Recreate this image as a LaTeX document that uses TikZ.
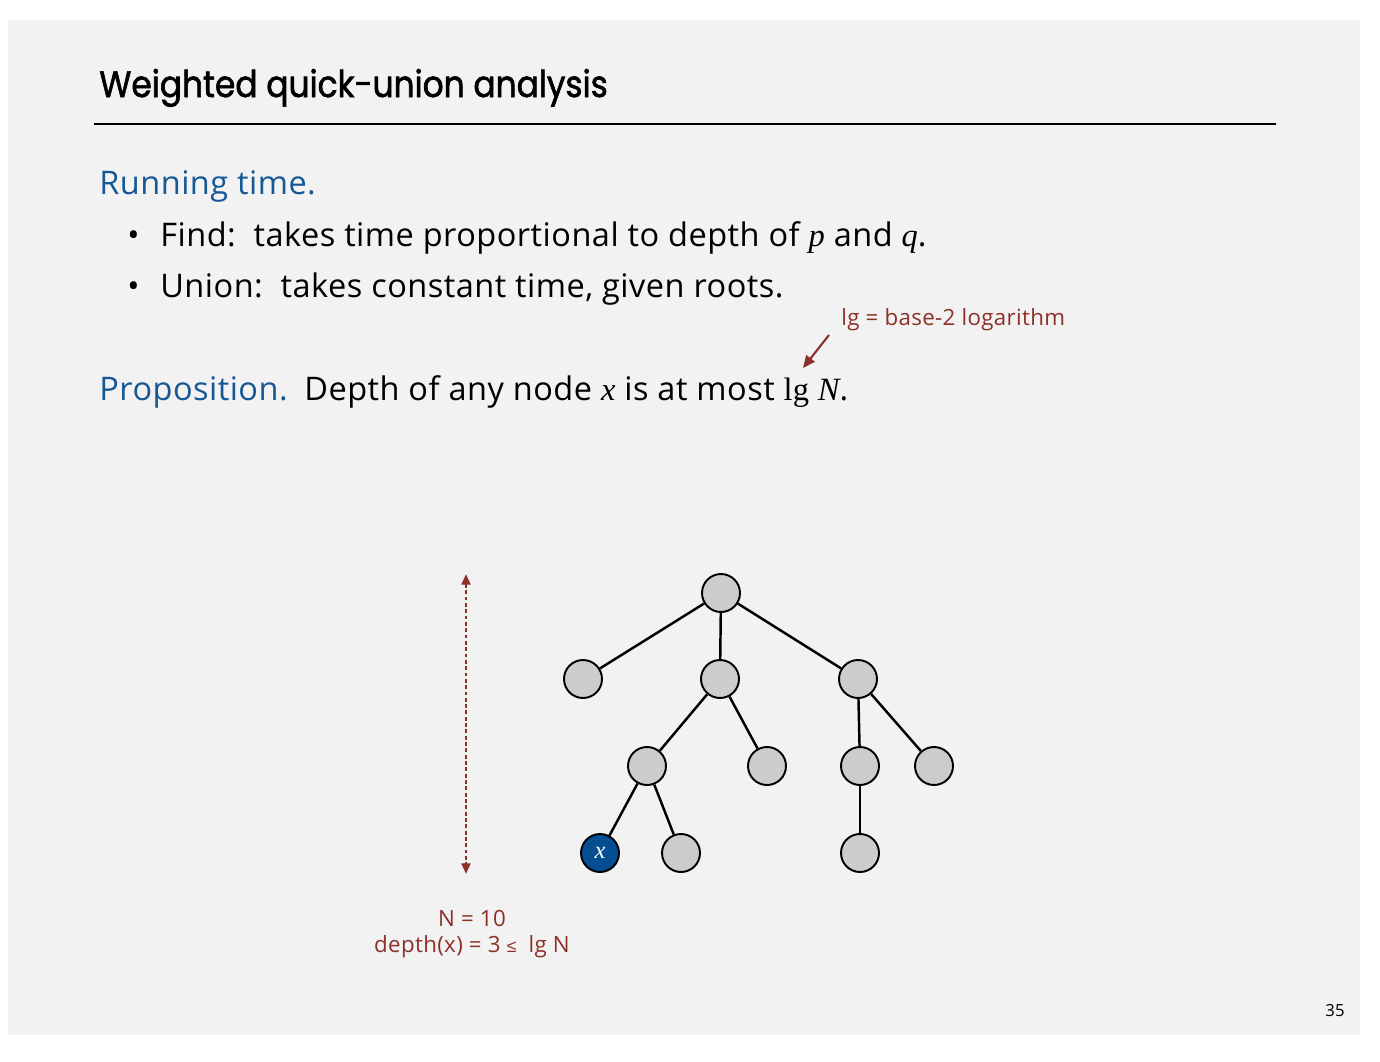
\documentclass[tikz,border=0pt]{standalone}
\usepackage{fontspec}
\setmainfont{Open Sans}[LetterSpace=1.5]
\newfontfamily\titlefont{Poppins}[FakeStretch=0.89, FakeBold=1.6]
\newfontfamily\serifmath{Liberation Serif}
\newfontfamily\symfont{Liberation Sans}
\usetikzlibrary{arrows.meta}
\definecolor{slidegray}{RGB}{242,242,242}
\definecolor{headblue}{RGB}{22,88,150}
\definecolor{notered}{RGB}{140,48,40}
\definecolor{nodegray}{RGB}{204,204,204}
\definecolor{xblue}{RGB}{4,78,145}
\newcommand{\mv}[1]{{\serifmath\itshape #1}}
\tikzset{
	treenode/.style={circle, draw=black, line width=1.1pt, fill=nodegray, minimum size=0.76cm, inner sep=0pt},
	treeedge/.style={line width=1.4pt},
	bodytext/.style={anchor=base west, inner sep=0pt, font=\fontsize{18.5}{22}\selectfont},
	notetext/.style={inner sep=0pt, text=notered, font=\fontsize{12.7}{15}\selectfont},
}
\begin{document}
\begin{tikzpicture}[x=0.02cm, y=-0.02cm]
				\useasboundingbox (0,0) rectangle (1380,1062);
				\fill[white] (0,0) rectangle (1380,1062);
				\fill[slidegray] (8,20) rectangle (1360,1035);
				\node [anchor=base west, inner sep=0pt, font=\titlefont\fontsize{21}{25}\selectfont] (title) at (99,97) {Weighted quick-union analysis};
				\coordinate (ruleL) at (94,124);
				\coordinate (ruleR) at (1276,124);
				\draw [line width=0.8pt] (ruleL) -- (ruleR);
				\node [bodytext, text=headblue] (running) at (99,194) {Running time.};
				\node [bodytext] (bulletA) at (127,246) {•};
				\node [bodytext] (find) at (160,246) {Find:\ \ takes time proportional to depth of \mv{p} and \mv{q}.};
				\node [bodytext] (bulletB) at (127,297) {•};
				\node [bodytext] (union) at (160,297) {Union:\ \ takes constant time, given roots.};
				\node [bodytext, text=headblue] (prop) at (99,400) {Proposition.};
				\node [bodytext] (depth) at (304,400) {Depth of any node \mv{x} is at most {\serifmath lg} \mv{N}.};
				\node [notetext, anchor=base west] (lgnote) at (841,325) {lg = base-2 logarithm};
				\coordinate (lgtail) at (829,335);
				\coordinate (lgtip) at (803,368);
				\draw [notered, line width=1.2pt, -{Triangle[length=7pt, width=6pt]}] (lgtail) -- (lgtip);
				\node [treenode] (r) at (721,593) {};
				\node [treenode] (a) at (583,679) {};
				\node [treenode] (b) at (720,679) {};
				\node [treenode] (c) at (858,679) {};
				\node [treenode] (ba) at (647,766) {};
				\node [treenode] (bb) at (767,766) {};
				\node [treenode] (ca) at (860,766) {};
				\node [treenode] (cb) at (934,766) {};
				\node [treenode, fill=xblue, text=white] (x) at (600,853) {\fontsize{14}{16}\selectfont\mv{x}};
				\node [treenode] (bab) at (681,853) {};
				\node [treenode] (caa) at (860,853) {};
				\draw [treeedge] (r) -- (a);
				\draw [treeedge] (r) -- (b);
				\draw [treeedge] (r) -- (c);
				\draw [treeedge] (b) -- (ba);
				\draw [treeedge] (b) -- (bb);
				\draw [treeedge] (c) -- (ca);
				\draw [treeedge] (c) -- (cb);
				\draw [treeedge] (ba) -- (x);
				\draw [treeedge] (ba) -- (bab);
				\draw [treeedge] (ca) -- (caa);
				\coordinate (depthtop) at (466,574);
				\coordinate (depthbot) at (466,874);
				\draw [notered, line width=1.3pt, dash pattern=on 2.2pt off 1.4pt, {Triangle[length=6pt, width=5pt]}-{Triangle[length=6pt, width=5pt]}] (depthtop) -- (depthbot);
				\node [notetext, anchor=base] (nval) at (472,926) {N = 10};
				\node [notetext, anchor=base] (dval) at (472,952) {depth(x) = 3 {\symfont\fontsize{10}{11}\selectfont ≤}\ \ lg N};
				\node [anchor=base, inner sep=0pt, font=\fontsize{9.5}{11}\selectfont] (pagenum) at (1335,1016) {35};
\end{tikzpicture}
\end{document}
